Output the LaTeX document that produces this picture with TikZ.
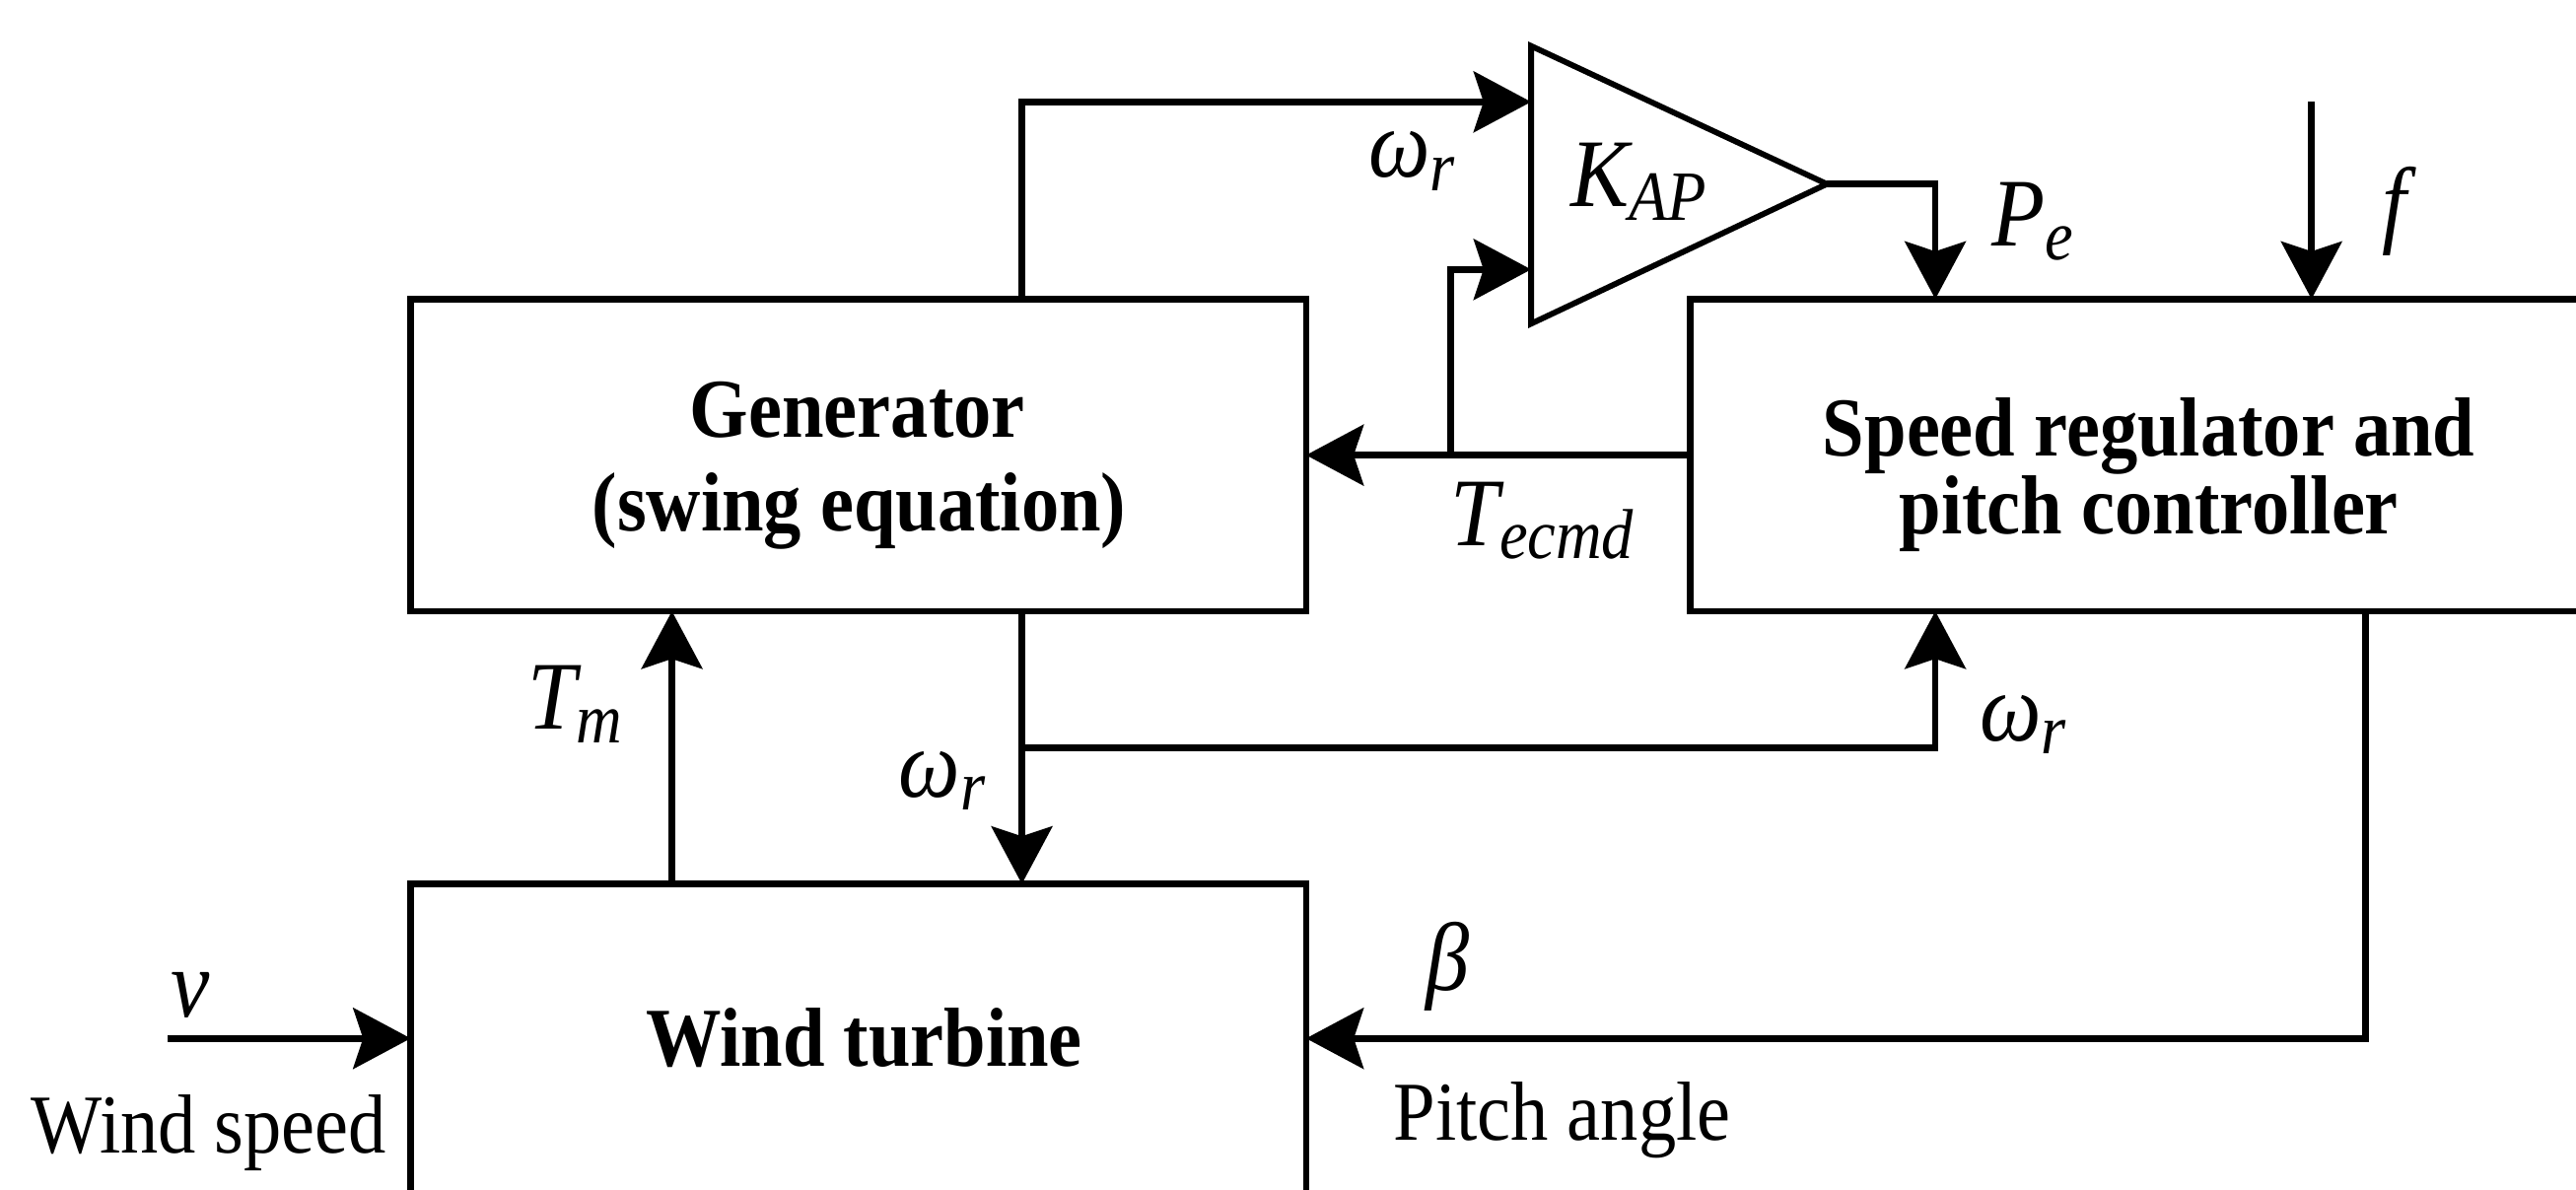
\documentclass[tikz,border=0pt]{standalone}
\usepackage{fontspec}
\setmainfont[FakeStretch=0.9]{Liberation Serif}
\usetikzlibrary{arrows.meta}
\newcommand\msym[2]{{\fontsize{59}{59}\selectfont\itshape #1\raisebox{-8pt}{\fontsize{43}{43}\selectfont\itshape #2}}}
\newcommand\mone[1]{{\fontsize{59}{59}\selectfont\itshape #1}}
\begin{document}
\begin{tikzpicture}[x=1pt,y=-1pt,
  box/.style={draw, line width=4pt, inner sep=0pt, outer sep=0pt},
  arr/.style={line width=4pt, -{Stealth[length=35pt,width=37pt,inset=6pt]}},
  btext/.style={font=\fontsize{51}{51}\selectfont\bfseries, inner sep=0pt, anchor=base},
  rtext/.style={font=\fontsize{51}{51}\selectfont, inner sep=0pt, anchor=base west},
  mlab/.style={inner sep=0pt, anchor=base west}]
\useasboundingbox (0,0) rectangle (1568,724);
\clip (0,0) rectangle (1568,724);
\fill[white] (0,0) rectangle (1568,724);

% blocks
\node[box, minimum width=545pt, minimum height=190pt] (gen) at (522.5,277) {};
\node[box, minimum width=545pt, minimum height=202pt] (wt) at (522.5,639) {};
\node[box, minimum width=558pt, minimum height=190pt] (spd) at (1308,277) {};

\node[btext] (gent1) at (522,266) {Generator};
\node[btext] (gent2) at (523,323) {(swing equation)};
\node[font=\fontsize{51}{44}\selectfont\bfseries, inner sep=0pt, align=center, anchor=center] (spdt) at (1308,289) {Speed regulator and\\pitch controller};
\node[btext] (wtt) at (526,649) {Wind turbine};

% gain triangle
\coordinate (ktop) at (932,28);
\coordinate (kbot) at (932,197);
\coordinate (kout) at (1112,112);
\coordinate (kin1) at (932,62);
\coordinate (kin2) at (932,164);
\draw[line width=3.5pt] (ktop) -- (kout) -- (kbot) -- cycle;
\node[mlab] (kap) at (956,126) {\msym{K}{AP}};

% routing points
\coordinate (c1) at (622,62);
\coordinate (tc) at (883,277);
\coordinate (pecol) at (1178,112);
\coordinate (ftop) at (1407,62);
\coordinate (wr) at (622,455);
\coordinate (tmx) at (409,455);
\coordinate (vin) at (102,632);
\coordinate (bc) at (1440,632);

% connectors
\draw[arr] (c1 |- gen.north) -- (c1) -- (kin1);
\draw[arr] (tc -| spd.west) -- (tc -| gen.east);
\draw[arr] (tc) |- (kin2);
\draw[arr] (kout) -| (pecol |- spd.north);
\draw[arr] (ftop) -- (ftop |- spd.north);
\draw[arr] (wr |- gen.south) -- (wr |- wt.north);
\draw[arr] (wr) -| (pecol |- spd.south);
\draw[arr] (tmx |- wt.north) -- (tmx |- gen.south);
\draw[arr] (vin) -- (vin -| wt.west);
\draw[arr] (bc |- spd.south) -- (bc) -- (bc -| wt.east);

% labels
\node[mlab] (lwr1) at (833,108) {\msym{ω}{r}};
\node[mlab] (lpe) at (1212,150) {\msym{P}{e}};
\node[mlab] (lf) at (1450,143) {\mone{f}};
\node[mlab] (ltec) at (883,332) {\msym{T}{ecmd}};
\node[mlab] (lwr2) at (1205,451) {\msym{ω}{r}};
\node[mlab] (ltm) at (321,444) {\msym{T}{m}};
\node[mlab] (lwr3) at (547,485) {\msym{ω}{r}};
\node[mlab] (lv) at (104,619) {\mone{v}};
\node[mlab] (lb) at (868,603) {\mone{β}};
\node[rtext] (lws) at (19,702) {Wind speed};
\node[rtext] (lpa) at (848,694) {Pitch angle};
\end{tikzpicture}
\end{document}
